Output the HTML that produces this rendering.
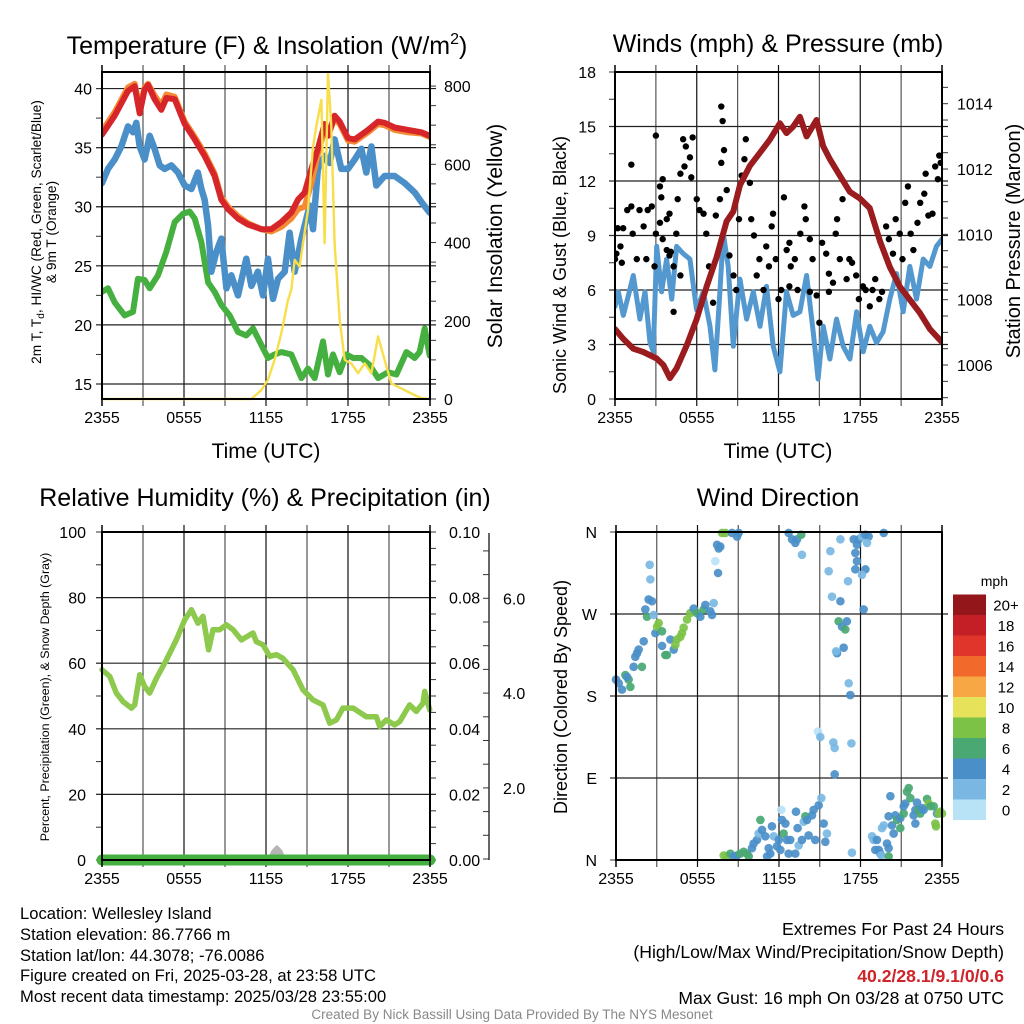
<!DOCTYPE html>
<html><head><meta charset="utf-8"><title>Mesonet Station Summary</title>
<style>
html,body{margin:0;padding:0;background:#fff;}
svg{display:block;font-family:"Liberation Sans",Arial,sans-serif;}
</style></head>
<body>
<svg id="chart" width="1024" height="1024" viewBox="0 0 1024 1024" xmlns="http://www.w3.org/2000/svg">
<rect x="0" y="0" width="1024" height="1024" fill="#fff"/>
<g id="p1"></g>
<g id="p2"></g>
<g id="p3"></g>
<g id="p4"></g>

<text x="267" y="54" font-size="25" text-anchor="middle">Temperature (F) &amp; Insolation (W/m<tspan font-size="16" dy="-10">2</tspan><tspan dy="10">)</tspan></text>
<text x="778" y="52" font-size="25" text-anchor="middle">Winds (mph) &amp; Pressure (mb)</text>
<text x="265" y="506" font-size="25" text-anchor="middle">Relative Humidity (%) &amp; Precipitation (in)</text>
<text x="778" y="506" font-size="25" text-anchor="middle">Wind Direction</text>

<text transform="translate(41,232) rotate(-90)" font-size="13.7" text-anchor="middle">2m T, T<tspan font-size="10" dy="3">d</tspan><tspan dy="-3">, HI/WC (Red, Green, Scarlet/Blue)</tspan></text>
<text transform="translate(56,232) rotate(-90)" font-size="13.7" text-anchor="middle">&amp; 9m T (Orange)</text>
<text transform="translate(502,236) rotate(-90)" font-size="21" text-anchor="middle">Solar Insolation (Yellow)</text>
<text x="266" y="458" font-size="21" text-anchor="middle">Time (UTC)</text>

<text transform="translate(566,265) rotate(-90)" font-size="18" text-anchor="middle">Sonic Wind &amp; Gust (Blue, Black)</text>
<text transform="translate(1020,241) rotate(-90)" font-size="20" text-anchor="middle">Station Pressure (Maroon)</text>
<text x="778" y="458" font-size="21" text-anchor="middle">Time (UTC)</text>

<text transform="translate(49,697) rotate(-90)" font-size="12.4" text-anchor="middle">Percent, Precipitation (Green), &amp; Snow Depth (Gray)</text>
<text transform="translate(567,697) rotate(-90)" font-size="18" text-anchor="middle">Direction (Colored By Speed)</text>

<text x="1008" y="586" font-size="14" text-anchor="end">mph</text>
<g id="cbar"></g>

<g font-size="16.6">
<text x="20" y="919">Location: Wellesley Island</text>
<text x="20" y="940">Station elevation: 86.7766 m</text>
<text x="20" y="961">Station lat/lon: 44.3078; -76.0086</text>
<text x="20" y="981">Figure created on Fri, 2025-03-28, at 23:58 UTC</text>
<text x="20" y="1002">Most recent data timestamp: 2025/03/28 23:55:00</text>
</g>
<g font-size="17.6" text-anchor="end">
<text x="1004" y="935">Extremes For Past 24 Hours</text>
<text x="1004" y="958">(High/Low/Max Wind/Precipitation/Snow Depth)</text>
<text x="1004" y="982" fill="#d0232a" font-weight="bold">40.2/28.1/9.1/0/0.6</text>
<text x="1004" y="1004">Max Gust: 16 mph On 03/28 at 0750 UTC</text>
</g>
<text x="512" y="1019" font-size="13.5" fill="#888" text-anchor="middle">Created By Nick Bassill Using Data Provided By The NYS Mesonet</text>
</svg>

<script>
// ---------- DATA ----------
const timeTickLabels=["2355","0555","1155","1755","2355"];
// Panel 1
const redHours=[0,0.93,1.9,2.39,2.76,3.12,3.37,3.85,4.34,4.71,5.32,6.05,6.78,7.51,8.24,8.73,9.22,9.95,10.68,11.66,12.39,13.12,13.85,14.34,14.83,15.32,15.8,16.29,16.54,17.02,17.39,18.0,18.49,19.46,20.2,20.68,21.41,22.39,23.37,23.98];
const redTemps=[36.1,37.7,39.8,40.2,37.9,39.9,40.3,39.1,38.2,39.2,39.1,37.0,35.7,34.3,32.6,30.6,29.8,29.0,28.5,28.1,28.1,28.7,29.5,30.6,31.2,33.2,34.9,37.0,36.0,37.7,37.2,35.8,35.7,36.5,37.2,37.1,36.7,36.5,36.3,36.0];
const orangeTemps=[36.4,38.0,40.1,40.4,38.3,40.1,40.4,39.4,38.6,39.5,39.3,37.2,35.9,34.5,32.8,30.8,30.0,29.2,28.6,28.1,27.9,28.3,29.0,29.8,30.0,32.0,34.5,36.5,36.0,37.5,37.0,35.6,35.5,36.3,37.0,36.9,36.5,36.3,36.2,35.9];
const blueHours=[0,0.44,0.93,1.41,1.9,2.27,2.51,2.76,3.12,3.49,3.85,4.22,4.59,5.07,5.56,6.05,6.54,7.02,7.27,7.51,7.76,8.0,8.37,8.73,9.1,9.46,9.95,10.56,10.93,11.41,11.78,12.15,12.51,12.88,13.37,13.73,14.1,14.59,15.2,15.44,15.8,16.29,16.66,17.02,17.51,18.0,18.49,18.98,19.34,19.71,20.07,20.68,21.41,22.15,22.88,23.37,23.98];
const blueTemps=[32.0,33.2,34.0,35.1,36.8,36.3,37.1,35.1,34.0,36.0,34.9,33.5,33.2,33.5,32.9,31.8,31.5,32.9,31.5,30.6,28.4,24.5,26.2,27.3,23.1,24.2,22.5,25.6,23.3,24.5,22.5,25.6,22.2,23.9,24.5,27.8,24.5,27.3,30.1,28.1,33.2,34.3,33.7,35.7,33.2,33.2,34.0,34.9,32.9,35.1,31.8,32.6,32.6,32.0,31.2,30.4,29.5];
const greenHours=[0,0.44,0.93,1.66,2.27,2.63,3.12,3.49,4.1,4.71,5.32,5.93,6.41,6.78,7.27,7.76,8.24,8.73,9.34,9.95,10.56,11.05,11.66,12.15,12.63,13.12,13.85,14.59,15.07,15.56,16.17,16.54,16.9,17.39,17.88,18.37,18.98,19.59,20.2,20.93,21.54,22.27,22.88,23.24,23.61,23.98];
const greenTemps=[22.8,23.1,21.9,20.8,21.1,23.9,23.8,23.1,24.2,26.2,28.7,29.4,29.6,29.0,27.0,23.6,22.8,21.7,20.8,19.4,19.1,19.7,18.3,17.2,17.5,17.7,17.5,15.5,16.3,15.5,18.6,15.8,17.5,16.0,17.5,17.2,17.2,16.6,15.5,16.0,15.8,17.7,17.2,17.7,19.7,17.4];
const solarHours=[0,10.93,11.66,12.15,12.63,13.12,13.61,13.85,14.1,14.46,14.71,15.07,15.44,15.68,16.05,16.29,16.54,16.78,17.02,17.39,17.76,18.24,18.73,19.22,19.71,20.2,20.68,21.17,21.9,22.63,23.37,24];
const solarValues=[0,0,23,49,100,168,253,279,356,338,398,483,645,697,765,398,833,697,398,202,100,91,66,91,66,160,100,40,27,14,2,0];
const tempTicks=[15,20,25,30,35,40];
const solarTicks=[0,200,400,600,800];
// Panel 2
const pressHours=[0,0.61,1.34,2.08,3.06,3.55,4.03,4.52,5.26,5.99,6.72,7.46,8.19,8.68,9.17,9.9,10.64,11.37,12.1,12.59,13.08,13.57,14.06,14.79,15.28,15.77,16.5,17.24,17.97,18.7,19.44,20.17,20.9,21.64,22.37,23.11,24];
const pressValues=[1007.1,1006.8,1006.5,1006.4,1006.2,1006.0,1005.6,1005.9,1006.6,1007.4,1008.4,1009.3,1010.4,1010.7,1011.5,1012.1,1012.5,1012.9,1013.4,1013.1,1013.3,1013.6,1013.0,1013.5,1012.7,1012.3,1011.8,1011.3,1011.1,1010.8,1009.8,1009.0,1008.4,1008.0,1007.6,1007.1,1006.7];
const windHours=[0,0.24,0.61,0.98,1.34,1.83,2.2,2.57,2.81,3.06,3.42,3.79,4.16,4.52,5.01,5.5,5.99,6.48,6.97,7.33,7.7,7.95,8.31,8.68,9.17,9.66,10.15,10.64,11.12,11.61,12.1,12.59,13.08,13.57,14.06,14.55,14.91,15.28,15.77,16.26,16.75,17.24,17.73,18.22,18.7,19.19,19.68,20.17,20.66,21.15,21.64,22.13,22.62,23.11,23.59,24];
const windSpeeds=[5.1,5.9,4.6,5.7,6.8,4.4,5.9,3.1,2.6,8.4,5.9,7.7,5.5,8.4,8.0,7.7,4.9,5.9,4.0,1.6,5.9,9.1,7.3,2.9,6.6,4.4,5.9,4.0,6.2,2.9,1.5,5.9,4.6,4.8,6.8,3.7,1.1,4.0,2.2,4.4,2.9,2.2,4.8,2.6,4.0,3.1,3.7,5.5,6.9,4.8,7.3,5.5,7.7,7.3,8.4,8.8];
const gustHours=[0,0.1,0.2,0.4,0.5,0.6,0.9,1.2,1.2,1.3,1.6,1.8,2.1,2.3,2.4,2.7,2.9,3.0,3.0,3.3,3.3,3.4,3.5,3.5,3.8,3.8,4.0,4.0,4.1,4.3,4.3,4.5,4.6,4.8,4.8,5.0,5.1,5.2,5.5,5.6,5.7,6.0,6.2,6.5,6.7,6.9,7.2,7.4,7.7,7.8,7.8,7.9,8.0,8.2,8.4,8.7,8.9,9.1,9.3,9.5,9.6,9.9,10.0,10.2,10.4,10.6,10.9,11.1,11.3,11.5,11.6,11.8,12.0,12.2,12.4,12.6,12.8,12.8,12.9,13.2,13.4,13.6,13.9,14.0,14.3,14.3,14.5,14.8,15.0,15.2,15.5,15.7,15.7,16.0,16.2,16.3,16.5,16.7,17.0,17.2,17.4,17.7,17.9,18.2,18.4,18.7,18.9,19.1,19.4,19.6,19.9,20.1,20.4,20.6,20.9,21.1,21.3,21.5,21.7,21.9,22.2,22.4,22.7,22.8,23.0,23.3,23.5,23.7,23.8,23.9];
const gustSpeeds=[7.7,8.0,9.4,8.4,7.5,9.4,10.4,10.6,12.9,9.1,7.7,10.4,9.5,7.7,10.4,10.6,7.3,9.1,14.5,9.7,11.7,11.1,8.8,12.1,8.2,9.9,7.9,10.2,8.1,4.8,7.3,9.1,11.0,6.8,12.4,14.3,12.8,13.9,13.3,12.2,14.4,11.0,10.4,10.2,9.1,7.3,5.3,10.1,11.0,16.1,13.0,15.3,13.7,11.5,7.9,6.8,6.0,9.9,12.3,13.2,14.3,11.9,9.9,9.0,6.8,7.7,6.0,8.4,7.3,9.5,10.2,7.7,5.5,6.0,11.1,8.2,8.6,6.2,7.3,7.7,6.0,9.1,10.6,9.9,8.8,5.9,7.7,5.7,4.2,8.6,8.0,6.9,5.9,6.4,9.1,9.9,7.7,11.0,6.6,7.7,7.5,6.8,5.5,6.2,6.0,5.1,6.0,6.6,5.5,5.9,9.5,8.8,8.0,9.9,9.1,7.7,10.8,11.7,9.1,8.2,9.7,10.8,11.3,12.4,10.1,10.2,12.8,12.1,13.4,13.0];
const mphTicks=[0,3,6,9,12,15,18];
const pressTicks=[1006,1008,1010,1012,1014];
// Panel 3
const rhHours=[0,0.56,1.05,1.54,2.15,2.39,2.76,3.12,3.49,3.98,4.71,5.44,6.05,6.54,7.02,7.39,7.8,8.12,8.61,9.1,9.59,10.2,11.05,11.29,11.78,12.27,12.76,13.24,13.98,14.71,15.44,16.17,16.66,17.15,17.63,18.37,19.34,20.07,20.32,20.8,21.41,21.78,22.51,23.0,23.49,23.61,23.98];
const rhValues=[58.0,56.0,50.9,48.3,46.3,47.3,56.5,52.9,50.9,55.4,61.0,67.1,73.2,76.3,72.2,74.3,64.1,70.2,70.2,71.7,70.2,67.1,69.2,66.6,65.6,62.1,62.6,61.5,58.0,51.9,48.8,47.3,41.7,42.7,46.3,46.3,43.7,43.7,40.7,42.7,41.2,42.2,47.3,45.3,47.8,51.4,45.8];
const precipHours=[0,24];
const precipValues=[0,0];
const snowHours=[0,12.2,12.5,12.8,13.1,13.4,24];
const snowValues=[0,0,0.4,0.6,0.4,0,0];
const rhTicks=[0,20,40,60,80,100];
const precipTicks=["0.00","0.02","0.04","0.06","0.08","0.10"];
const snowTickLabels=["2.0","4.0","6.0"];
// Panel 4
const dirHours=[0,0.2,0.44,0.69,0.93,1.06,0.81,1.3,1.42,1.55,1.67,1.91,2.04,2.28,2.16,2.4,2.65,2.53,2.48,2.77,2.9,3.02,3.14,3.39,3.39,3.63,3.75,4.0,4.25,4.37,4.49,4.74,4.86,4.98,5.23,5.47,5.72,5.96,6.21,6.45,6.58,6.94,7.19,7.07,7.44,7.56,7.68,7.31,7.51,7.8,8.05,8.54,8.91,9.03,
7.93,8.17,8.42,8.66,8.91,9.15,9.4,9.64,9.77,10.01,10.13,10.38,10.5,10.63,10.75,10.99,11.12,11.24,11.36,11.48,11.61,11.85,11.98,12.1,12.17,12.22,12.34,12.47,12.59,12.71,12.83,13.2,13.25,13.37,13.45,13.69,13.82,13.94,14.06,14.18,14.43,14.55,14.67,14.92,15.12,15.29,15.41,15.53,
12.71,12.96,13.2,13.33,13.64,13.69,
15.78,15.66,16.52,17.08,15.9,16.52,17.5,17.74,17.87,18.11,18.36,18.6,18.48,17.62,17.74,17.62,18.36,18.11,18.23,16.39,17.0,16.64,16.88,16.76,16.27,16.2,17.13,17.25,14.87,15.04,16.0,16.1,17.33,16.1,17.37,19.71,
18.85,18.97,19.21,19.09,19.34,19.46,19.53,19.58,19.95,20.07,20.07,19.71,20.07,20.32,20.44,20.56,20.69,20.93,20.93,21.18,21.18,21.3,21.42,21.55,21.67,21.91,22.04,22.04,22.16,22.28,22.4,22.53,22.65,22.9,23.02,23.14,23.39,23.63,23.75,23.88,24.0,23.51,23.56,20.2];
const dirDegrees=[198,194,187,203,198,190,201,212,223,227,231,212,240,267,275,286,284,308,324,269,249,256,260,251,235,225,225,242,231,236,242,245,249,255,264,271,276,271,267,275,280,273,282,269,346,342,344,328,315,359,359,359,355,359,
5,4,7,4,5,7,9,7,4,13,18,22,29,44,33,26,4,13,7,37,26,15,22,11,55,44,29,40,22,7,22,7,53,35,16,22,42,48,44,27,49,55,22,60,68,40,20,29,
359,352,348,352,357,335,
339,317,352,306,289,284,352,346,352,355,357,355,348,337,328,319,319,313,275,262,262,256,253,233,227,229,194,181,141,135,129,123,128,94,8,359,
26,22,22,11,11,7,5,35,18,13,4,38,48,38,29,49,44,35,46,51,59,62,75,79,68,49,40,55,63,55,51,57,55,67,62,59,59,51,51,53,51,40,37,70];
const dirSpeeds=[5,5,5,7,7,7,5,5,5,5,5,7,5,7,5,5,5,3,3,3,5,9,9,7,5,7,7,5,5,9,9,9,9,9,9,9,5,7,5,7,5,5,3,5,5,5,5,1,5,9,9,5,5,5,
9,9,7,5,5,7,7,7,7,5,5,5,3,7,5,5,5,5,5,5,3,5,5,5,1,5,7,5,5,5,5,5,5,5,3,5,3,7,5,5,5,5,5,5,3,5,5,3,
5,5,5,5,7,3,
3,3,3,3,3,5,5,5,5,3,5,5,3,5,5,5,5,3,5,7,5,5,7,5,5,3,3,5,1,3,3,3,3,5,3,5,
3,3,5,5,5,5,3,3,5,5,7,3,5,5,5,5,7,7,5,7,5,5,7,7,7,5,5,5,5,7,7,5,5,7,9,7,7,5,9,9,9,9,9,5];
const dirTickLabels=["N","E","S","W","N"];
const speedBinLabels=["0","2","4","6","8","10","12","14","16","18","20+"];
const speedBinColors=["#b8e3f7","#7ab8e3","#4a8fc8","#4aa873","#7cc247","#e6e25a","#f7a845","#f26a2b","#e0352b","#c41e26","#93161b"];

// ---------- HELPERS ----------
const NS="http://www.w3.org/2000/svg";
function mk(parent,tag,attrs){const e=document.createElementNS(NS,tag);for(const k in attrs)e.setAttribute(k,attrs[k]);parent.appendChild(e);return e;}
function lin(d0,d1,r0,r1){return v=>r0+(v-d0)/(d1-d0)*(r1-r0);}
function linePath(xs,ys,sx,sy){return xs.map((x,i)=>(i?"L":"M")+sx(x).toFixed(1)+","+sy(ys[i]).toFixed(1)).join("");}

function frame(g,L,R,T,B,vgrid,hvals,sy){
  const gridG=mk(g,"g",{});
  
  
  for(let i=1;i<8;i++){const x=L+(R-L)*i/8;
    const ln=mk(gridG,"line",{x1:x,x2:x,y1:T-7,y2:B+7,stroke:i%2?"#555":"#111","stroke-width":1.2});
    
    }
  hvals.forEach(v=>{const y=sy(v);
    const ln=mk(gridG,"line",{x1:L-6,x2:R+6,y1:y,y2:y,stroke:"#222","stroke-width":1.2});
    
    });
}
function border(g,L,R,T,B){
  const b=mk(g,"rect",{x:L,y:T,width:R-L,height:B-T,fill:"none",stroke:"#000","stroke-width":2});
  
  
  [L,R].forEach(x=>{const t=mk(g,"line",{x1:x,x2:x,y1:T-7,y2:B+7,stroke:"#000","stroke-width":1.5});
    
    });
}
function xTicks(g,L,R,B){
  timeTickLabels.forEach((s,i)=>{const x=L+(R-L)*i/4;
    const t=mk(g,"text",{x:x,y:B+24,"font-size":16,"text-anchor":"middle"});t.textContent=s;
    
    });
}
function yLabels(g,vals,labels,sy,x,anchor){
  vals.forEach((v,i)=>{const t=mk(g,"text",{x:x,y:sy(v)+6,"font-size":16,"text-anchor":anchor});t.textContent=labels[i];
    
    });
}
function ticks(g,vals,sy,x,len,name){
  vals.forEach(v=>{const y=sy(v);const t=mk(g,"line",{x1:x,x2:x+len,y1:y,y2:y,stroke:"#333","stroke-width":1});
    
    });
}
function range(a,b,s){const r=[];for(let v=a;v<=b+1e-9;v+=s)r.push(+v.toFixed(4));return r;}

// ---------- PANEL 1 ----------
(function(){
  const g=document.getElementById("p1");const L=102,R=430,T=72,B=399;
  const sx=lin(0,24,L,R), sy=lin(13.73,41.4,B,T), ss=lin(0,836,B,T);
  frame(g,L,R,T,B,true,tempTicks,sy);
  ticks(g,range(15,40,2.5),sy,L-6,6,'left-tick');
  ticks(g,range(0,800,50),ss,R,6,'right-tick');
  yLabels(g,tempTicks,tempTicks.map(String),sy,92,"end");
  yLabels(g,solarTicks,solarTicks.map(String),ss,444,"start");
  xTicks(g,L,R,B);
  const cp=mk(g,"clipPath",{id:"c1"});mk(cp,"rect",{x:L,y:T-2,width:R-L,height:B-T+4});
  const d=mk(g,"g",{"clip-path":"url(#c1)","fill":"none","stroke-linejoin":"round","stroke-linecap":"round"});
  let p;
  p=mk(d,"path",{d:linePath(greenHours,greenTemps,sx,sy),stroke:"#45b040","stroke-width":6});
  
  
  p=mk(d,"path",{d:linePath(blueHours,blueTemps,sx,sy),stroke:"#4a8fc8","stroke-width":6.5});
  
  
  p=mk(d,"path",{d:linePath(redHours,orangeTemps,sx,sy),stroke:"#f58a34","stroke-width":6});
  
  
  p=mk(d,"path",{d:linePath(redHours,redTemps,sx,sy),stroke:"#d7262a","stroke-width":6});
  
  
  p=mk(d,"path",{d:linePath(solarHours,solarValues,sx,ss),stroke:"#f7de4a","stroke-width":2.4});
  
  
  border(g,L,R,T,B);
})();

// ---------- PANEL 2 ----------
(function(){
  const g=document.getElementById("p2");const L=615,R=942,T=72,B=399;
  const sx=lin(0,24,L,R), sy=lin(0,18,B,T), sp=lin(1004.96,1014.97,B,T);
  frame(g,L,R,T,B,true,[3,6,9,12,15],sy);
  ticks(g,range(0,18,1.5),sy,L-6,6,'left-tick');
  ticks(g,range(1005,1014.5,0.5),sp,R,6,'right-tick');
  yLabels(g,mphTicks,mphTicks.map(String),sy,596,"end");
  yLabels(g,pressTicks,pressTicks.map(String),sp,957,"start");
  xTicks(g,L,R,B);
  const cp=mk(g,"clipPath",{id:"c2"});mk(cp,"rect",{x:L,y:T-2,width:R-L,height:B-T+4});
  const d=mk(g,"g",{"clip-path":"url(#c2)","fill":"none","stroke-linejoin":"round","stroke-linecap":"round"});
  let p=mk(d,"path",{d:linePath(windHours,windSpeeds,sx,sy),stroke:"#5498d0","stroke-width":5});
  
  
  gustHours.forEach((h,i)=>{const c=mk(d,"circle",{cx:sx(h),cy:sy(gustSpeeds[i]),r:3.2,fill:"#000"});
    
    });
  p=mk(d,"path",{d:linePath(pressHours,pressValues,sx,sp),stroke:"#9b1c1f","stroke-width":6});
  
  
  border(g,L,R,T,B);
})();

// ---------- PANEL 3 ----------
(function(){
  const g=document.getElementById("p3");const L=102,R=430,T=532,B=860;
  const sx=lin(0,24,L,R), sy=lin(0,100,B,T), sq=lin(0,0.1,B,T), sn=lin(0,1,B,B-22);
  frame(g,L,R,T,B,true,[20,40,60,80],sy);
  ticks(g,range(0,100,10),sy,L-6,6,'left-tick');
  ticks(g,range(0,0.1,0.005),sq,R,6,'right-tick');
  yLabels(g,rhTicks,rhTicks.map(String),sy,86,"end");
  yLabels(g,[0,0.02,0.04,0.06,0.08,0.1],precipTicks,sq,449,"start");
  xTicks(g,L,R,B);
  const ax=mk(g,"line",{x1:489,x2:489,y1:533,y2:860,stroke:"#333","stroke-width":1.5});
  
  
  for(let k=0;k<14;k++){const y=859-23.7*k;const t=mk(g,"line",{x1:483,x2:489,y1:y,y2:y,stroke:"#333","stroke-width":1});
    
    }
  snowTickLabels.forEach((s,i)=>{const y=859-23.7*(3+4*i);
    const t=mk(g,"text",{x:503,y:y+6,"font-size":16});t.textContent=s;
    
    });
  const cp=mk(g,"clipPath",{id:"c3"});mk(cp,"rect",{x:L-8,y:T-2,width:R-L+16,height:B-T+10});
  const d=mk(g,"g",{"clip-path":"url(#c3)","stroke-linejoin":"round","stroke-linecap":"round"});
  let p=mk(d,"path",{d:linePath(snowHours,snowValues,sx,sn)+"Z",fill:"#b5b5b5",stroke:"#b5b5b5","stroke-width":3});
  
  
  p=mk(d,"path",{d:linePath(rhHours,rhValues,sx,sy),fill:"none",stroke:"#8cc94c","stroke-width":5.5});
  
  
  p=mk(d,"path",{d:linePath(precipHours,precipValues,sx,sq),fill:"none",stroke:"#45b040","stroke-width":11});
  
  
  border(g,L,R,T,B);
})();

// ---------- PANEL 4 ----------
function speedColor(s){let i=Math.floor(s/2);if(i>10)i=10;if(i<0)i=0;return speedBinColors[i];}
(function(){
  const g=document.getElementById("p4");const L=616,R=942,T=532,B=860;
  const sx=lin(0,24,L,R), sy=lin(0,360,B,T);
  frame(g,L,R,T,B,true,[90,180,270],sy);
  ticks(g,[0,90,180,270,360],sy,L-6,6,'left-tick');
  yLabels(g,[0,90,180,270,360],dirTickLabels,sy,597,"end");
  xTicks(g,L,R,B);
  const d=mk(g,"g",{});
  dirHours.forEach((h,i)=>{const c=mk(d,"circle",{cx:sx(h),cy:sy(dirDegrees[i]),r:4.3,fill:speedColor(dirSpeeds[i]),"fill-opacity":0.92});
    
    });
  border(g,L,R,T,B);
  const cb=document.getElementById("cbar");
  speedBinColors.forEach((col,i)=>{const y=820-(i+1)*20.5;
    const r=mk(cb,"rect",{x:953,y:y,width:33,height:20.5,fill:col});
    
    
    const t=mk(cb,"text",{x:1006,y:y+16,"font-size":15,"text-anchor":"middle"});t.textContent=speedBinLabels[i];
    
    });
})();
</script>
</body></html>
